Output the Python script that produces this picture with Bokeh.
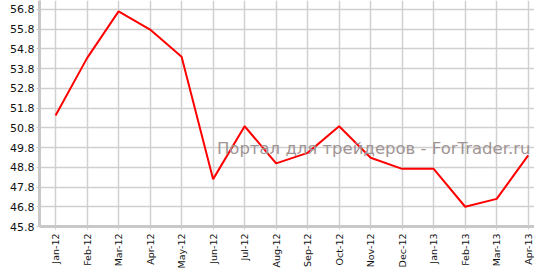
import numpy as np
from bokeh.plotting import figure
from bokeh.models import FixedTicker, Range1d, Label
from bokeh.embed import file_html
from bokeh.resources import INLINE

months = ["Jan-12", "Feb-12", "Mar-12", "Apr-12", "May-12", "Jun-12", "Jul-12", "Aug-12",
          "Sep-12", "Oct-12", "Nov-12", "Dec-12", "Jan-13", "Feb-13", "Mar-13", "Apr-13"]
values = [51.42, 54.33, 56.7, 55.78, 54.4, 48.2, 50.88, 49.0,
          49.53, 50.88, 49.28, 48.72, 48.72, 46.8, 47.2, 49.4]
y_ticks = [45.8, 46.8, 47.8, 48.8, 49.8, 50.8, 51.8, 52.8, 53.8, 54.8, 55.8, 56.8]
watermark = "Портал для трейдеров - ForTrader.ru"

xs = list(range(len(months)))

p = figure(width=534, height=271, output_backend="svg", toolbar_location=None,
           x_range=Range1d(-0.51, 15.2), y_range=Range1d(45.8, 57.25),
           min_border_left=39, min_border_right=0, min_border_top=0, min_border_bottom=42)
p.outline_line_color = None
p.background_fill_color = "white"

p.line(xs, values, line_color="#ff0000", line_width=2)

p.add_layout(Label(x=5.12, y=49.75, text=watermark, text_color="#a09494",
                   text_font="DejaVu Sans", text_font_size="16.5px",
                   text_baseline="alphabetic"))

p.xaxis.ticker = FixedTicker(ticks=xs)
p.xaxis.major_label_overrides = {i: m for i, m in enumerate(months)}
p.xaxis.major_label_orientation = np.pi / 2
p.yaxis.ticker = FixedTicker(ticks=y_ticks)
p.yaxis.major_label_overrides = {v: f"{v:.1f}" for v in y_ticks}

for ax in (p.xaxis, p.yaxis):
    ax.axis_line_color = "#c8c8c8"
    ax.axis_line_width = 3
    ax.major_tick_line_color = "#c8c8c8"
    ax.major_tick_out = 3
    ax.major_tick_in = 0
    ax.minor_tick_line_color = None
    ax.major_label_text_font = "DejaVu Sans"
    ax.major_label_text_color = "#111111"

p.yaxis.major_label_text_font_size = "11px"
p.yaxis.major_label_standoff = 2
p.xaxis.major_label_text_font_size = "9.5px"
p.xaxis.major_label_standoff = 4

p.xgrid.ticker = FixedTicker(ticks=xs)
p.ygrid.ticker = FixedTicker(ticks=y_ticks)
p.xgrid.grid_line_color = "#d0d0d0"
p.ygrid.grid_line_color = "#d0d0d0"
p.xgrid.grid_line_width = 1.5
p.ygrid.grid_line_width = 1.5

open("out.html", "w").write(file_html(p, INLINE))
